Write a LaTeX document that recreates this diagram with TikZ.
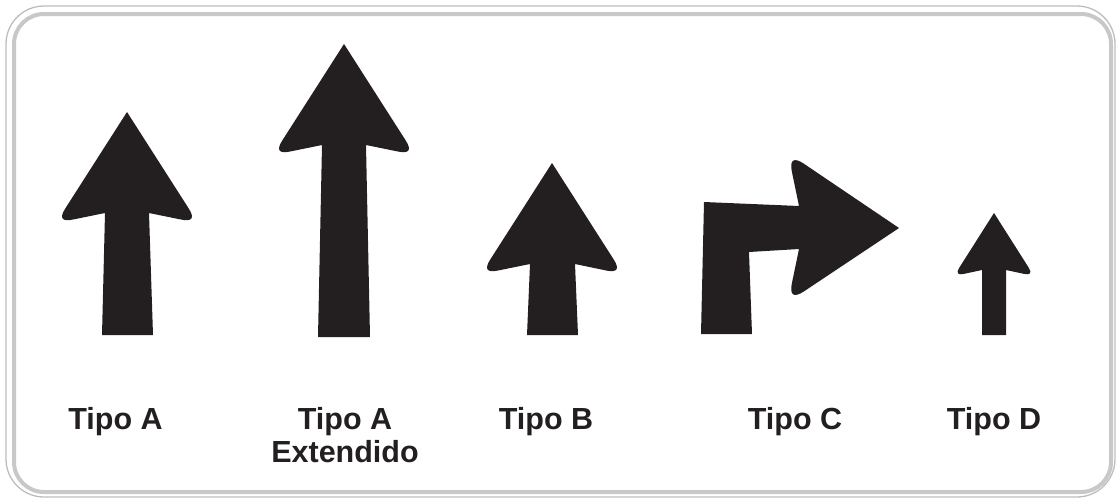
\documentclass[tikz,border=0pt]{standalone}
\usepackage{fontspec}
\setmainfont{Liberation Sans}
\usepackage{tikz}
\usetikzlibrary{calc}
\definecolor{ink}{HTML}{231F20}
\definecolor{frameGray}{HTML}{C8C8C8}
\definecolor{frameLine}{HTML}{BDBDBD}

\begin{document}
\begin{tikzpicture}[
    x=1pt, y=-1pt,
    frameOuter/.style={draw=frameLine, line width=1.3pt, rounded corners=38pt},
    frameInner/.style={draw=frameGray, line width=4pt, rounded corners=30pt},
    arrowShape/.style={fill=ink, draw=none},
    signLabel/.style={font=\fontsize{30.5}{33}\selectfont\bfseries, text=ink, align=center, inner sep=0pt, anchor=north}
]
    \useasboundingbox (0,0) rectangle (1116,499);

    % sign frame
    \draw[frameOuter] (6,6) rectangle (1115,497);
    \draw[frameInner] (14,14) rectangle (1111,492);

    % Tipo A
    \fill[arrowShape] (127,112)
        -- ($(56,223)!17pt!(127,112)$) .. controls ($(56,223)!6pt!(127,112)$) and ($(56,223)!6pt!(105,213)$) .. ($(56,223)!17pt!(105,213)$)
        -- (105,213) -- (102,335) -- (153,335) -- (149,213)
        -- ($(198,223)!17pt!(149,213)$) .. controls ($(198,223)!6pt!(149,213)$) and ($(198,223)!6pt!(127,112)$) .. ($(198,223)!17pt!(127,112)$)
        -- cycle;

    % Tipo A extendido
    \fill[arrowShape] (344,44)
        -- ($(273,155)!17pt!(344,44)$) .. controls ($(273,155)!6pt!(344,44)$) and ($(273,155)!6pt!(322,145)$) .. ($(273,155)!17pt!(322,145)$)
        -- (322,145) -- (318,337) -- (370,337) -- (366,145)
        -- ($(415,155)!17pt!(366,145)$) .. controls ($(415,155)!6pt!(366,145)$) and ($(415,155)!6pt!(344,44)$) .. ($(415,155)!17pt!(344,44)$)
        -- cycle;

    % Tipo B
    \fill[arrowShape] (552,163)
        -- ($(481,274)!17pt!(552,163)$) .. controls ($(481,274)!6pt!(552,163)$) and ($(481,274)!6pt!(530,264)$) .. ($(481,274)!17pt!(530,264)$)
        -- (530,264) -- (527,335) -- (578,335) -- (575,264)
        -- ($(623,274)!17pt!(575,264)$) .. controls ($(623,274)!6pt!(575,264)$) and ($(623,274)!6pt!(552,163)$) .. ($(623,274)!17pt!(552,163)$)
        -- cycle;

    % Tipo C
    \fill[arrowShape] (701,334) -- (704,202) -- (799,206)
        -- ($(788,153)!19pt!(799,206)$) .. controls ($(788,153)!7pt!(799,206)$) and ($(788,153)!7pt!(899,228)$) .. ($(788,153)!19pt!(899,228)$)
        -- (899,228)
        -- ($(788,302)!19pt!(899,228)$) .. controls ($(788,302)!7pt!(899,228)$) and ($(788,302)!7pt!(799,249)$) .. ($(788,302)!19pt!(799,249)$)
        -- (799,249) -- (749,252) -- (752,334) -- cycle;

    % Tipo D
    \fill[arrowShape] (994,213)
        -- ($(954,276)!10pt!(994,213)$) .. controls ($(954,276)!3.5pt!(994,213)$) and ($(954,276)!3.5pt!(982,270)$) .. ($(954,276)!10pt!(982,270)$)
        -- (982,270) -- (982,335) -- (1006,335) -- (1006,270)
        -- ($(1034,276)!10pt!(1006,270)$) .. controls ($(1034,276)!3.5pt!(1006,270)$) and ($(1034,276)!3.5pt!(994,213)$) .. ($(1034,276)!10pt!(994,213)$)
        -- cycle;

    \node[signLabel] (labA) at (115.5,407) {Tipo A};
    \node[signLabel] (labAExt) at (345,407) {Tipo A\\Extendido};
    \node[signLabel] (labB) at (546,407) {Tipo B};
    \node[signLabel] (labC) at (795,407) {Tipo C};
    \node[signLabel] (labD) at (994,407) {Tipo D};
\end{tikzpicture}
\end{document}
